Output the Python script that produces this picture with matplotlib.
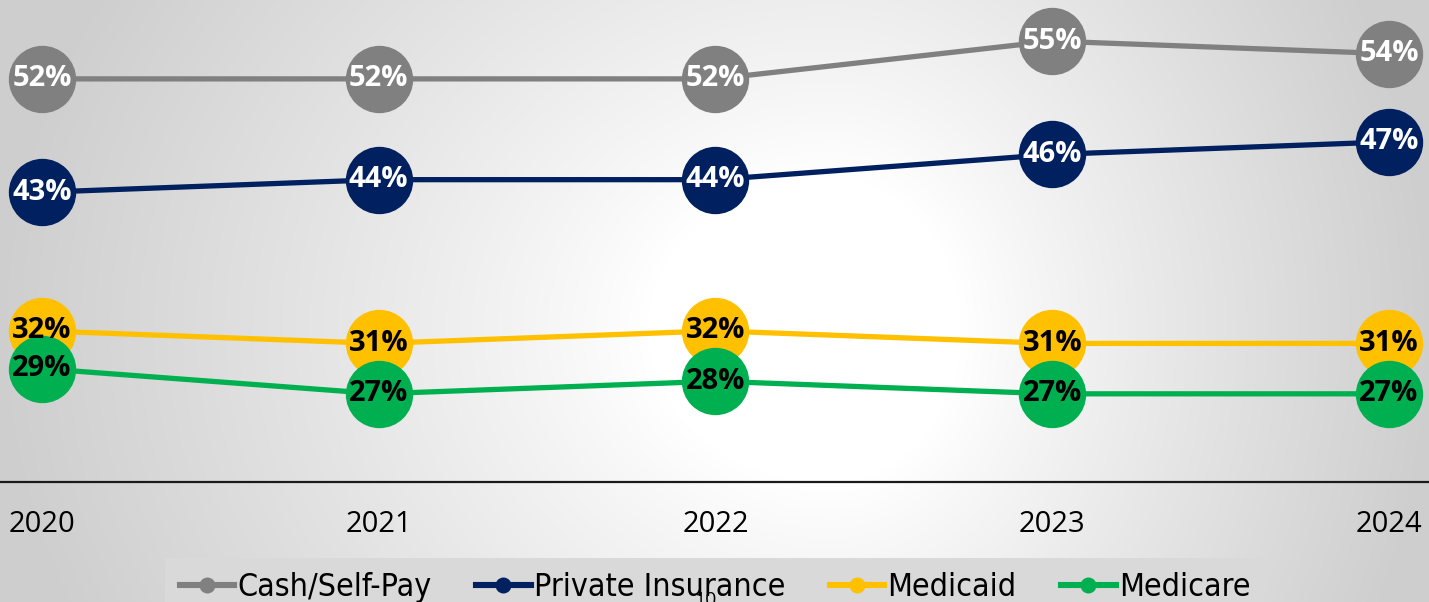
import numpy as np
import matplotlib
matplotlib.use("Agg")
import matplotlib.pyplot as plt
from matplotlib.lines import Line2D

years = [2020, 2021, 2022, 2023, 2024]
series_names = ["Cash/Self-Pay", "Private Insurance", "Medicaid", "Medicare"]
cash_self_pay = [52, 52, 52, 55, 54]
private_insurance = [43, 44, 44, 46, 47]
medicaid = [32, 31, 32, 31, 31]
medicare = [29, 27, 28, 27, 27]

colors = ["#808080", "#002060", "#FFC000", "#00B050"]
label_colors = ["white", "white", "black", "black"]
all_series = [cash_self_pay, private_insurance, medicaid, medicare]

W, H = 1429, 602
fig = plt.figure(figsize=(W / 100, H / 100), dpi=100)

# soft backdrop: bright in the middle, grey towards the sides
bg = fig.add_axes([0, 0, 1, 1], zorder=-10)
yy, xx = np.mgrid[0:H, 0:W].astype(float)
cx, cy = 830.0, 330.0
dxn = np.where(xx < cx, (cx - xx) / cx, (xx - cx) / (W - cx))
dyn = np.abs(yy - cy) / 700.0
r = np.hypot(dxn, dyn)
t = np.clip((r - 0.22) / 0.78, 0, 1)
shade = 1.0 - 0.19 * t ** 0.9
img = np.dstack([shade, shade, shade])
bg.imshow(img, extent=[0, 1, 0, 1], aspect="auto", origin="upper")
bg.set_axis_off()

ax_bottom = (H - 482) / H
ax = fig.add_axes([0, ax_bottom, 1, 1 - ax_bottom])
ax.patch.set_alpha(0)

for vals, c in zip(all_series, colors):
    ax.plot(years, vals, color=c, lw=3.8, marker="o", markersize=48.5,
            markeredgewidth=0, solid_capstyle="butt", zorder=2)

label_font = dict(family=["Open Sans", "DejaVu Sans"], fontsize=21, fontweight="bold")
for vals, lc in zip(all_series, label_colors):
    for x, v in zip(years, vals):
        ax.text(x, v, f"{v}%", color=lc, ha="center", va="center",
                zorder=5, **label_font)

ax.set_xlim(2020 - 42 / 337, 2024 + 40 / 337)
ax.set_ylim(20, 55 + 41 / 12.57)
ax.set_yticks([])
ax.set_xticks(years)
ax.set_xticklabels([str(y) for y in years], family=["Open Sans", "DejaVu Sans"],
                   fontsize=21, color="black")
ax.tick_params(axis="x", length=0, pad=20)
for s in ["top", "right", "left"]:
    ax.spines[s].set_visible(False)
ax.spines["bottom"].set_color("#1a1a1a")
ax.spines["bottom"].set_linewidth(1.6)

handles = [Line2D([0], [0], color=c, lw=4.4, marker="o", markersize=11.5,
                  markeredgewidth=0) for c in colors]
leg = fig.legend(handles, series_names, loc="upper center",
                 bbox_to_anchor=((168 + 1262) / 2 / W, (H - 558) / H),
                 ncol=4, frameon=True, fancybox=False,
                 prop=dict(family="DejaVu Sans", stretch="condensed", size=23),
                 handlelength=1.7, handletextpad=0.1, columnspacing=1.4,
                 borderpad=0.45, borderaxespad=0)
leg.get_frame().set_facecolor("#d9d9d9")
leg.get_frame().set_edgecolor("none")
leg.get_frame().set_alpha(1)

fig.text(705 / W, 11 / H, "10", ha="center", va="top", fontsize=14,
         family=["Open Sans", "DejaVu Sans"], color="black", zorder=20)

fig.savefig("out.png", dpi=100)
